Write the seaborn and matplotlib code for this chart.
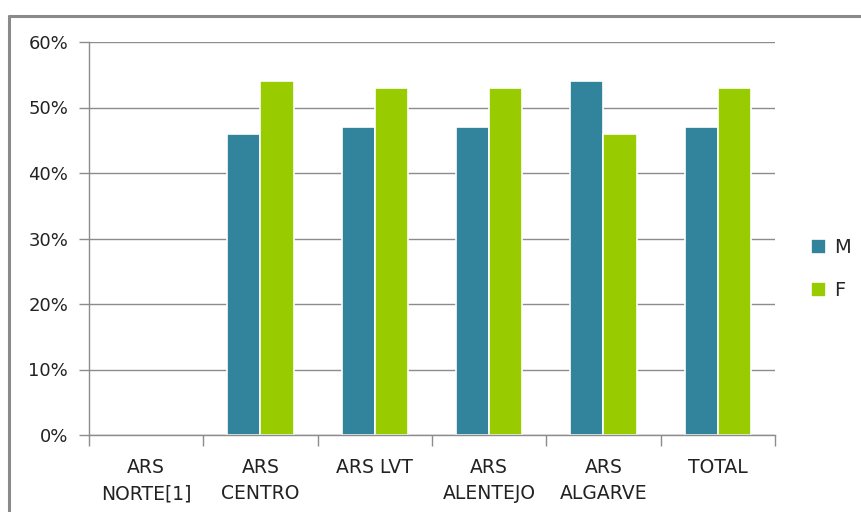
import matplotlib
matplotlib.use("Agg")
import matplotlib.pyplot as plt
from matplotlib.lines import Line2D
from matplotlib.ticker import FixedLocator, PercentFormatter
import numpy as np
import pandas as pd
import seaborn as sns

categories = ["ARS\nNORTE[1]", "ARS\nCENTRO", "ARS LVT", "ARS\nALENTEJO", "ARS\nALGARVE", "TOTAL"]
male = [np.nan, 46, 47, 47, 54, 47]
female = [np.nan, 54, 53, 53, 46, 53]
series = ["M", "F"]
colors = {"M": "#31849B", "F": "#99CC00"}

df = pd.DataFrame({
    "region": categories * 2,
    "sexo": ["M"] * len(categories) + ["F"] * len(categories),
    "valor": male + female,
})

sns.set_theme(style="white")
plt.rcParams["font.family"] = ["DejaVu Sans"]

fig = plt.figure(figsize=(8.62, 5.12), dpi=100)
ax = fig.add_axes([89 / 862, 1 - 435 / 512, (775 - 89) / 862, (435 - 42) / 512])

sns.barplot(data=df, x="region", y="valor", hue="sexo", hue_order=series,
            palette=colors, width=0.58, edgecolor="white", linewidth=1.2,
            saturation=1, ax=ax, legend=True)

ax.set_xlim(-0.5, len(categories) - 0.5)
ax.set_ylim(0, 60)
ax.set_yticks(range(0, 61, 10))
ax.yaxis.set_major_formatter(PercentFormatter(decimals=0))
ax.yaxis.grid(True, color="#8c8c8c", linewidth=1)
ax.set_axisbelow(True)
ax.set_xlabel("")
ax.set_ylabel("")

for side in ("top", "right"):
    ax.spines[side].set_visible(False)
for side in ("left", "bottom"):
    ax.spines[side].set_color("#8c8c8c")
    ax.spines[side].set_linewidth(1)

ax.tick_params(axis="y", which="major", length=7, width=1, color="#8c8c8c",
               labelsize=13, pad=8, left=True)
for lbl in ax.get_yticklabels():
    lbl.set_color("#222222")

ax.tick_params(axis="x", which="major", length=0, labelsize=13.5, pad=16.5)
ax.xaxis.set_minor_locator(FixedLocator(np.arange(-0.5, len(categories), 1.0)))
ax.tick_params(axis="x", which="minor", length=8, width=1, color="#8c8c8c", bottom=True)
for lbl in ax.get_xticklabels():
    lbl.set_color("#222222")
    lbl.set_linespacing(1.5)

handles, labels = ax.get_legend_handles_labels()
ax.legend(handles, labels, loc="center left", bbox_to_anchor=(801 / 862, 1 - 269 / 512),
          bbox_transform=fig.transFigure, frameon=False, fontsize=14,
          handlelength=0.8, handleheight=0.8, handletextpad=0.4,
          labelspacing=1.25, borderpad=0)

# outer chart frame
fig.add_artist(Line2D([9 / 862, 9 / 862], [0, 1 - 16 / 512], transform=fig.transFigure,
                      color="#8a8a8a", linewidth=2.2))
fig.add_artist(Line2D([9 / 862, 1], [1 - 16 / 512, 1 - 16 / 512], transform=fig.transFigure,
                      color="#8a8a8a", linewidth=2.2))

fig.savefig("out.png", dpi=100)
